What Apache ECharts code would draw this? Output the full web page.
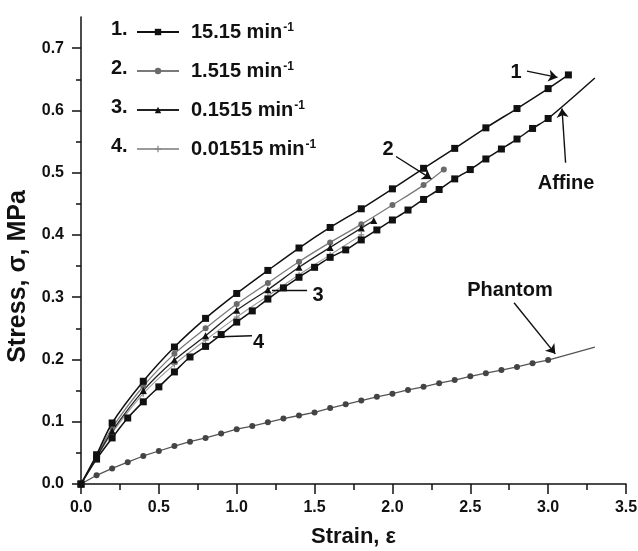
<!DOCTYPE html>
<html>
<head>
<meta charset="UTF-8">
<title>Stress-strain</title>
<script src="https://cdn.jsdelivr.net/npm/echarts@6/dist/echarts.min.js"></script>
<style>
  html, body { margin: 0; padding: 0; background: #fff; }
  #main { width: 638px; height: 551px; }
</style>
</head>
<body>
<div id="main"></div>
<script>
// strain rates (legend)
var rates = ['15.15', '1.515', '0.1515', '0.01515'];

// curve 1 : 15.15 min-1
var x1 = [0, 0.1, 0.2, 0.4, 0.6, 0.8, 1.0, 1.2, 1.4, 1.6, 1.8, 2.0, 2.2, 2.4, 2.6, 2.8, 3.0, 3.13];
var y1 = [0, 0.047, 0.098, 0.165, 0.220, 0.266, 0.306, 0.343, 0.379, 0.412, 0.442, 0.474, 0.507, 0.539, 0.572, 0.603, 0.635, 0.657];
// curve 2 : 1.515 min-1
var x2 = [0, 0.1, 0.2, 0.4, 0.6, 0.8, 1.0, 1.2, 1.4, 1.6, 1.8, 2.0, 2.2, 2.33];
var y2 = [0, 0.045, 0.090, 0.157, 0.209, 0.250, 0.289, 0.323, 0.357, 0.388, 0.417, 0.448, 0.480, 0.505];
// curve 3 : 0.1515 min-1
var x3 = [0, 0.1, 0.2, 0.4, 0.6, 0.8, 1.0, 1.2, 1.4, 1.6, 1.8, 1.88];
var y3 = [0, 0.043, 0.085, 0.150, 0.199, 0.238, 0.279, 0.312, 0.348, 0.380, 0.411, 0.423];
// curve 4 : 0.01515 min-1
var x4 = [0, 0.1, 0.2, 0.4, 0.6, 0.8, 1.0, 1.2, 1.4, 1.6, 1.8];
var y4 = [0, 0.042, 0.082, 0.145, 0.192, 0.231, 0.268, 0.302, 0.336, 0.368, 0.400];

// affine model
var xAff = [0, 0.1, 0.2, 0.3, 0.4, 0.5, 0.6, 0.7, 0.8, 0.9, 1.0, 1.1, 1.2, 1.3, 1.4, 1.5, 1.6, 1.7, 1.8, 1.9, 2.0,
            2.1, 2.2, 2.3, 2.4, 2.5, 2.6, 2.7, 2.8, 2.9, 3.0];
var yAff = [0, 0.040, 0.074, 0.106, 0.132, 0.156, 0.180, 0.204, 0.221, 0.240, 0.260, 0.278, 0.297, 0.315, 0.332,
            0.348, 0.364, 0.376, 0.392, 0.408, 0.424, 0.440, 0.457, 0.473, 0.490, 0.505, 0.522, 0.538, 0.554, 0.571, 0.587];
var affEnd = [3.3, 0.652];

// phantom model
var xPh = [0, 0.1, 0.2, 0.3, 0.4, 0.5, 0.6, 0.7, 0.8, 0.9, 1.0, 1.1, 1.2, 1.3, 1.4, 1.5, 1.6, 1.7, 1.8, 1.9, 2.0,
           2.1, 2.2, 2.3, 2.4, 2.5, 2.6, 2.7, 2.8, 2.9, 3.0];
var yPh = [0, 0.014, 0.025, 0.035, 0.045, 0.053, 0.061, 0.068, 0.074, 0.081, 0.088, 0.093, 0.099, 0.105, 0.110,
           0.115, 0.122, 0.128, 0.134, 0.140, 0.145, 0.151, 0.156, 0.162, 0.167, 0.173, 0.178, 0.183, 0.188, 0.194, 0.199];
var phEnd = [3.3, 0.220];

var yTicks = [0, 0.1, 0.2, 0.3, 0.4, 0.5, 0.6, 0.7];

function pairs(xs, ys) {
    var out = [];
    for (var i = 0; i < xs.length; i++) out.push([xs[i], ys[i]]);
    return out;
}

var FONT = '"Liberation Sans", Arial, sans-serif';
var plusPath = 'path://M4,0H6V4H10V6H6V10H4V6H0V4H4Z';

var affData = pairs(xAff, yAff);
affData.push({ value: affEnd, symbol: 'none' });
var phData = pairs(xPh, yPh);
phData.push({ value: phEnd, symbol: 'none' });

var myChart = echarts.init(document.getElementById('main'));
myChart.setOption({
    backgroundColor: '#fff',
    animation: false,
    grid: { left: 81, right: 12, top: 17, bottom: 67, outerBoundsMode: 'none' },
    legend: {
        data: rates,
        orient: 'vertical',
        left: 131,
        top: 17,
        itemWidth: 42,
        itemHeight: 8,
        itemGap: 19,
        selectedMode: false,
        formatter: function (name) { return '{a|' + name + ' min}{s|-1}'; },
        textStyle: {
            rich: {
                a: { fontFamily: FONT, fontWeight: 'bold', fontSize: 20, lineHeight: 20, color: '#111', padding: [0, 0, 0, 7] },
                s: { fontFamily: FONT, fontWeight: 'bold', fontSize: 12, lineHeight: 12, color: '#111', verticalAlign: 'top', padding: [0, 0, 0, 1] }
            }
        }
    },
    // row numbers in front of the legend icons
    graphic: ['1.', '2.', '3.', '4.'].map(function (t, i) {
        return {
            type: 'text', left: 111, top: 19 + i * 39,
            style: { text: t, font: 'bold 20px ' + FONT, fill: '#111' }
        };
    }),
    xAxis: {
        type: 'value', min: 0, max: 3.5, interval: 0.5,
        name: 'Strain, ε', nameLocation: 'middle', nameGap: 42,
        nameTextStyle: { fontFamily: FONT, fontWeight: 'bold', fontSize: 22, color: '#111' },
        axisLine: { show: true, lineStyle: { color: '#111', width: 1.5 } },
        axisTick: { show: true, inside: false, length: 10, lineStyle: { color: '#111', width: 1.5 } },
        minorTick: { show: true, splitNumber: 2, length: 6, lineStyle: { color: '#111', width: 1.5 } },
        axisLabel: { margin: 16, fontFamily: FONT, fontWeight: 'bold', fontSize: 16, color: '#111',
                     formatter: function (v) { return v.toFixed(1); } },
        splitLine: { show: false }
    },
    yAxis: {
        type: 'value', min: 0, max: 0.75, interval: 0.1,
        name: 'Stress, σ, MPa', nameLocation: 'middle', nameGap: 48, nameRotate: 90,
        nameTextStyle: { fontFamily: FONT, fontWeight: 'bold', fontSize: 25, color: '#111', padding: [0, 52, 0, 0] },
        axisLine: { show: true, lineStyle: { color: '#111', width: 1.5 } },
        axisTick: { show: true, inside: false, length: 9, customValues: yTicks, lineStyle: { color: '#111', width: 1.5 } },
        minorTick: { show: true, splitNumber: 2, length: 5, lineStyle: { color: '#111', width: 1.5 } },
        axisLabel: { margin: 17, fontFamily: FONT, fontWeight: 'bold', fontSize: 16, color: '#111', customValues: yTicks,
                     formatter: function (v) { return v.toFixed(1); } },
        splitLine: { show: false }
    },
    series: [
        {
            name: rates[0], type: 'line', data: pairs(x1, y1), z: 5, smooth: 0.3,
            symbol: 'rect', symbolSize: 7, showAllSymbol: true,
            lineStyle: { color: '#111', width: 1.5 }, itemStyle: { color: '#111' }
        },
        {
            name: rates[1], type: 'line', data: pairs(x2, y2), z: 4, smooth: 0.3,
            symbol: 'circle', symbolSize: 6, showAllSymbol: true,
            lineStyle: { color: '#7a7a7a', width: 1.3 }, itemStyle: { color: '#6a6a6a' }
        },
        {
            name: rates[2], type: 'line', data: pairs(x3, y3), z: 4, smooth: 0.3,
            symbol: 'triangle', symbolSize: 7, showAllSymbol: true,
            lineStyle: { color: '#222', width: 1.3 }, itemStyle: { color: '#111' }
        },
        {
            name: rates[3], type: 'line', data: pairs(x4, y4), z: 3, smooth: 0.3,
            symbol: plusPath, symbolSize: 6, showAllSymbol: true,
            lineStyle: { color: '#9a9a9a', width: 1.1 }, itemStyle: { color: '#888' }
        },
        {
            name: 'Affine', type: 'line', data: affData, z: 3, smooth: 0.3,
            symbol: 'rect', symbolSize: 7, showAllSymbol: true,
            lineStyle: { color: '#111', width: 1.5 }, itemStyle: { color: '#111' },
            markLine: {
                silent: true, symbol: ['none', 'arrow'], symbolSize: 9,
                lineStyle: { color: '#111', width: 1.4, type: 'solid' },
                label: { show: false },
                data: [
                    [{ coord: [2.864, 0.663] }, { coord: [3.060, 0.653] }],
                    [{ coord: [2.023, 0.526] }, { coord: [2.250, 0.490] }],
                    [{ coord: [1.227, 0.311] }, { coord: [1.452, 0.311], symbol: 'none' }],
                    [{ coord: [0.848, 0.236] }, { coord: [1.098, 0.238], symbol: 'none' }],
                    [{ coord: [3.112, 0.516] }, { coord: [3.089, 0.603] }],
                    [{ coord: [2.781, 0.291] }, { coord: [3.046, 0.209] }]
                ]
            },
            markPoint: {
                silent: true, symbol: 'circle', symbolSize: 0,
                label: { show: true, position: 'inside', formatter: '{b}', color: '#111',
                         fontFamily: FONT, fontWeight: 'bold', fontSize: 20 },
                data: [
                    { name: '1', coord: [2.794, 0.661] },
                    { name: '2', coord: [1.972, 0.538] },
                    { name: '3', coord: [1.522, 0.302] },
                    { name: '4', coord: [1.14, 0.227] },
                    { name: 'Affine', coord: [3.115, 0.483] },
                    { name: 'Phantom', coord: [2.755, 0.311] }
                ]
            }
        },
        {
            name: 'Phantom', type: 'line', data: phData, z: 3,
            symbol: 'circle', symbolSize: 6, showAllSymbol: true,
            lineStyle: { color: '#555', width: 1.3 }, itemStyle: { color: '#444' }
        }
    ]
});
</script>
</body>
</html>
